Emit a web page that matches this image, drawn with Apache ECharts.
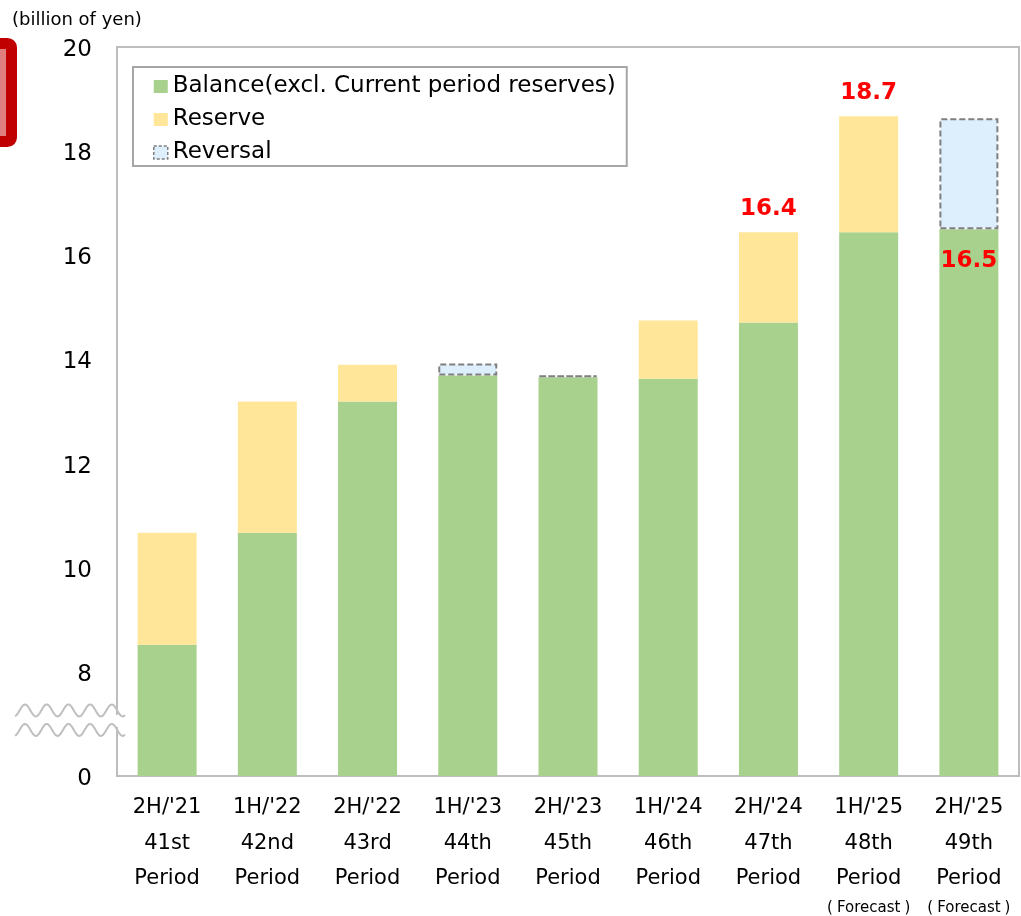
<!DOCTYPE html>
<html><head><meta charset="utf-8">
<script src="https://cdn.jsdelivr.net/npm/echarts@6.0.0/dist/echarts.min.js"></script>
<style>html,body{margin:0;padding:0;background:#fff}#c{width:1021px;height:916px}</style>
</head><body><div id="c"></div>
<script>
// ---- data ----
const halves  = ["2H/'21","1H/'22","2H/'22","1H/'23","2H/'23","1H/'24","2H/'24","1H/'25","2H/'25"];
const periods = ["41st","42nd","43rd","44th","45th","46th","47th","48th","49th"];
const notes   = ["","","","","","","","Forecast","Forecast"];
const balance  = [8.52, 10.67, 13.19, 13.69, 13.66, 13.63, 14.71, 16.44, 16.50];
const reserve  = [2.15, 2.52, 0.71, null, null, 1.12, 1.73, 2.23, null];
const reversal = [null, null, null, 0.23, 0.03, null, null, null, 2.13];
const topLabels   = ["", "", "", "", "", "", "16.4", "18.7", ""];
const innerLabels = ["", "", "", "", "", "", "", "", "16.5"];
const yTickValues = [6, 8, 10, 12, 14, 16, 18, 20];
const yTickLabels = ["0", "8", "10", "12", "14", "16", "18", "20"];
const seriesNames = ["Balance(excl. Current period reserves)", "Reserve", "Reversal"];

const FONT = "'DejaVu Sans', 'Noto Sans CJK JP', sans-serif";
const redLabel = {color: '#ff0000', fontWeight: 'bold', fontSize: 23, fontFamily: FONT};

const balanceData = balance.map((v, i) => innerLabels[i] ? {
  value: v,
  label: Object.assign({show: true, position: 'insideTop', distance: 20, formatter: innerLabels[i]}, redLabel)
} : v);
const reserveData = reserve.map((v, i) => topLabels[i] ? {
  value: v,
  label: Object.assign({show: true, position: 'top', distance: 12, formatter: topLabels[i]}, redLabel)
} : (v === null ? '-' : v));
const reversalData = reversal.map(v => v === null ? '-' : v);

const chart = echarts.init(document.getElementById('c'), null, {renderer: 'canvas'});
const option = {
  animation: false,
  backgroundColor: '#fff',
  textStyle: {fontFamily: FONT},
  grid: {left: 117, right: 2, top: 47, bottom: 140, containLabel: false, outerBoundsMode: 'none',
         show: true, borderColor: '#bdbdbd', borderWidth: 2, backgroundColor: 'transparent'},
  legend: {
    orient: 'vertical', left: 133, top: 67,
    padding: [8, 11, 2, 20], itemGap: 10,
    itemWidth: 14, itemHeight: 13,
    borderColor: '#a6a6a6', borderWidth: 2, backgroundColor: '#fff',
    textStyle: {fontSize: 23, fontFamily: FONT, color: '#000', lineHeight: 23},
    data: [
      {name: seriesNames[0], icon: 'rect', itemStyle: {borderWidth: 0}},
      {name: seriesNames[1], icon: 'rect', itemStyle: {borderWidth: 0}},
      {name: seriesNames[2], icon: 'rect', itemStyle: {borderColor: '#7f7f7f', borderWidth: 1.5, borderType: [3, 2]}}
    ]
  },
  xAxis: {
    type: 'category', data: halves,
    axisLine: {show: true, lineStyle: {color: '#bdbdbd', width: 2}},
    axisTick: {show: false},
    axisLabel: {
      interval: 0, margin: 14, color: '#000',
      formatter: (val, idx) => {
        let s = '{a|' + halves[idx] + '}\n{a|' + periods[idx] + '}\n{a|Period}';
        if (notes[idx]) s += '\n{p|(}{f|' + notes[idx] + '}{p|)}';
        return s;
      },
      rich: {
        a: {fontSize: 21, lineHeight: 35.5, fontFamily: FONT, color: '#000'},
        f: {fontSize: 15, lineHeight: 24, fontFamily: FONT, color: '#000', padding: [0, 4, 0, 4]},
        p: {fontSize: 15, lineHeight: 24, fontFamily: FONT, color: '#000'}
      }
    }
  },
  yAxis: {
    type: 'value', min: 6, max: 20, interval: 2,
    splitLine: {show: false},
    axisLine: {show: true, lineStyle: {color: '#bdbdbd', width: 2}},
    axisTick: {show: false},
    axisLabel: {
      fontSize: 23, fontFamily: FONT, color: '#000', margin: 25,
      verticalAlign: 'top', lineHeight: 6,
      formatter: v => { const k = yTickValues.indexOf(v); return k >= 0 ? yTickLabels[k] : ''; }
    }
  },
  series: [
    {name: seriesNames[0], type: 'bar', stack: 's', barWidth: 59, data: balanceData,
     itemStyle: {color: '#a9d18e'}},
    {name: seriesNames[1], type: 'bar', stack: 's', barWidth: 59, data: reserveData,
     itemStyle: {color: '#ffe699'}},
    {name: seriesNames[2], type: 'bar', stack: 's', barWidth: 59, data: reversalData,
     itemStyle: {color: '#ddeefc', borderColor: '#7f7f7f', borderWidth: 2, borderType: [6, 3]}}
  ]
};
chart.setOption(option);

// decorations: axis-break waves, unit text, cropped red box
const y7 = chart.convertToPixel({yAxisIndex: 0}, 7);
function wave(cy) {
  const pts = [];
  for (let x = 15; x <= 125; x += 1) {
    pts.push([x, cy - 6 * Math.cos(2 * Math.PI * (x - 25) / 21.7)]);
  }
  return {type: 'polyline', shape: {points: pts}, style: {stroke: '#bfbfbf', lineWidth: 2, fill: null}, z: 10};
}
chart.setOption({
  graphic: [
    {type: 'rect', shape: {x: 110, y: y7 - 9, width: 14, height: 12}, style: {fill: '#fff'}, z: 9},
    wave(y7 - 13.5),
    wave(y7 + 6),
    {type: 'text', left: 12, top: 11, style: {text: '(billion of yen)', fontSize: 18, fontFamily: FONT, fill: '#000'}, z: 10},
    {type: 'rect', shape: {x: -30, y: 43.5, width: 41.5, height: 98, r: 4},
     style: {fill: '#e07f7f', stroke: '#c00000', lineWidth: 11}, z: 10}
  ]
});
</script></body></html>
